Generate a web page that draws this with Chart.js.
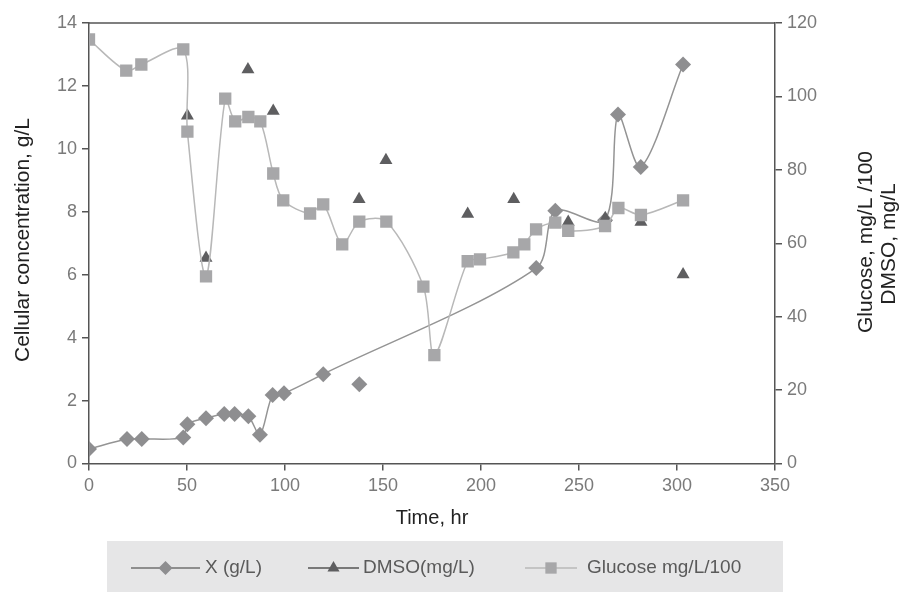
<!DOCTYPE html>
<html>
<head>
<meta charset="utf-8">
<script src="https://cdn.jsdelivr.net/npm/chart.js@4.4.0/dist/chart.umd.min.js"></script>
<style>
  html, body { margin: 0; padding: 0; background: #fff; }
  #wrap { width: 900px; height: 592px; position: relative; }
</style>
</head>
<body>
<div id="wrap"><canvas id="chart" width="900" height="592"></canvas></div>
<script>
// Cell concentration X (g/L), left axis
const xTime = [0, 19.4, 26.9, 48.1, 50.2, 59.7, 69.0, 74.3, 81.3, 87.2, 93.7, 99.5, 119.5, 228.2, 237.9, 263.3, 269.9, 281.5, 303.1];
const xValues = [0.46, 0.78, 0.78, 0.83, 1.25, 1.44, 1.57, 1.57, 1.50, 0.91, 2.18, 2.23, 2.84, 6.21, 8.03, 7.73, 11.09, 9.42, 12.68];
// stray X sample that the curve does not pass through
const xOutlierTime = [137.9];
const xOutlierValues = [2.52];

// DMSO (mg/L), right axis, markers only
const dmsoTime = [50.2, 59.7, 81.1, 94.0, 137.8, 151.5, 193.2, 216.7, 244.5, 263.4, 281.6, 303.1];
const dmsoValues = [94.7, 56.0, 107.3, 96.0, 72.0, 82.6, 68.0, 72.0, 65.8, 66.8, 65.8, 51.5];

// Glucose (mg/L /100), right axis
const glucoseTime = [0, 19.0, 26.7, 48.1, 50.2, 59.7, 69.5, 74.6, 81.3, 87.4, 94.0, 99.1, 112.8, 119.5, 129.2, 137.9, 151.7, 170.6, 176.2, 193.2, 199.5, 216.5, 222.1, 228.1, 237.9, 244.5, 263.3, 270.1, 281.6, 303.1];
const glucoseValues = [115.5, 107.0, 108.7, 112.8, 90.4, 51.0, 99.4, 93.2, 94.4, 93.2, 79.0, 71.7, 68.1, 70.6, 59.7, 65.9, 65.9, 48.2, 29.5, 55.1, 55.6, 57.5, 59.7, 63.8, 65.6, 63.4, 64.7, 69.6, 67.7, 71.7];

// axis ticks
const timeTicks = [0, 50, 100, 150, 200, 250, 300, 350];
const leftTicks = [0, 2, 4, 6, 8, 10, 12, 14];
const rightTicks = [0, 20, 40, 60, 80, 100, 120];

const legendItems = [
    { label: 'X (g/L)', line: '#8e8e8e', lineWidth: 2, fill: '#8e8e90', style: 'rectRot', radius: 7, x0: 131, x1: 200, textX: 205 },
    { label: 'DMSO(mg/L)', line: '#555', lineWidth: 1.5, fill: '#5e5e60', style: 'triangle', radius: 7, x0: 308, x1: 359, textX: 363 },
    { label: 'Glucose mg/L/100', line: '#b8b8b8', lineWidth: 1.5, fill: '#a7a7a9', style: 'rect', radius: 8, x0: 525, x1: 577, textX: 587 }
];

const FONT = "'Liberation Sans', Arial, sans-serif";
Chart.defaults.font.family = FONT;

function pts(xs, ys) {
    return xs.map((t, i) => ({ x: t, y: ys[i] }));
}

// axis titles, top frame line and the boxed legend
const decorPlugin = {
    id: 'decor',
    afterDraw(chart) {
        const ctx = chart.ctx;
        const area = chart.chartArea;
        ctx.save();

        // top border of the plot
        ctx.strokeStyle = '#555';
        ctx.lineWidth = 1.5;
        ctx.beginPath();
        ctx.moveTo(area.left, area.top);
        ctx.lineTo(area.right, area.top);
        ctx.stroke();

        // axis titles
        ctx.fillStyle = '#222';
        ctx.font = '20px ' + FONT;
        ctx.textAlign = 'center';
        ctx.textBaseline = 'middle';
        ctx.fillText('Time, hr', 432, 518);

        ctx.font = '21px ' + FONT;
        const vertical = (text, x, y) => {
            ctx.save();
            ctx.translate(x, y);
            ctx.rotate(-Math.PI / 2);
            ctx.fillText(text, 0, 0);
            ctx.restore();
        };
        vertical('Cellular concentration, g/L', 23, 240);
        vertical('Glucose, mg/L /100', 866, 242);
        vertical('DMSO, mg/L', 889, 244);

        // legend box
        ctx.fillStyle = '#e6e6e7';
        ctx.fillRect(107, 541, 676, 51);
        const ly = 568;
        legendItems.forEach(item => {
            ctx.strokeStyle = item.line;
            ctx.lineWidth = item.lineWidth;
            ctx.beginPath();
            ctx.moveTo(item.x0, ly);
            ctx.lineTo(item.x1, ly);
            ctx.stroke();
            ctx.fillStyle = item.fill;
            ctx.strokeStyle = item.fill;
            Chart.helpers.drawPoint(ctx, { pointStyle: item.style, radius: item.radius, rotation: 0, borderWidth: 0 }, (item.x0 + item.x1) / 2, ly);
            ctx.fillStyle = '#5a5a5a';
            ctx.font = '19px ' + FONT;
            ctx.textAlign = 'left';
            ctx.textBaseline = 'middle';
            ctx.fillText(item.label, item.textX, ly);
        });
        ctx.restore();
    }
};

function axisStyle(ticksList) {
    return {
        grid: { drawOnChartArea: false, drawTicks: true, tickLength: 7, color: '#555', lineWidth: 1.5 },
        border: { color: '#555', width: 1.5 },
        ticks: { color: '#7a7a7a', font: { size: 18 }, padding: 5 },
        afterBuildTicks: scale => { scale.ticks = ticksList.map(v => ({ value: v })); }
    };
}

const ctx = document.getElementById('chart').getContext('2d');
new Chart(ctx, {
    type: 'line',
    data: {
        datasets: [
            {
                label: 'X (g/L)',
                data: pts(xTime, xValues),
                yAxisID: 'y',
                borderColor: '#949494',
                borderWidth: 1.5,
                tension: 0.3,
                pointStyle: 'rectRot',
                pointRadius: 8,
                pointBackgroundColor: '#8e8e90',
                pointBorderColor: '#8e8e90',
                pointBorderWidth: 0,
                order: 3
            },
            {
                label: 'X outlier',
                data: pts(xOutlierTime, xOutlierValues),
                yAxisID: 'y',
                showLine: false,
                pointStyle: 'rectRot',
                pointRadius: 8,
                pointBackgroundColor: '#8e8e90',
                pointBorderWidth: 0,
                order: 3
            },
            {
                label: 'DMSO(mg/L)',
                data: pts(dmsoTime, dmsoValues),
                yAxisID: 'y1',
                showLine: false,
                pointStyle: 'triangle',
                pointRadius: 7.5,
                pointBackgroundColor: '#5e5e60',
                pointBorderWidth: 0,
                order: 2
            },
            {
                label: 'Glucose mg/L/100',
                data: pts(glucoseTime, glucoseValues),
                yAxisID: 'y1',
                borderColor: '#b8b8b8',
                borderWidth: 1.5,
                tension: 0.3,
                pointStyle: 'rect',
                pointRadius: 8.7,
                pointBackgroundColor: '#a7a7a9',
                pointBorderWidth: 0,
                order: 1
            }
        ]
    },
    options: {
        responsive: false,
        animation: false,
        devicePixelRatio: 1,
        layout: { padding: { top: 23, bottom: 60.5, left: 0, right: 0 } },
        plugins: {
            legend: { display: false },
            tooltip: { enabled: false }
        },
        scales: {
            x: Object.assign(axisStyle(timeTicks), {
                type: 'linear',
                position: 'bottom',
                min: 0,
                max: 350,
                afterFit: scale => { scale.height = 68; }
            }),
            y: Object.assign(axisStyle(leftTicks), {
                type: 'linear',
                position: 'left',
                min: 0,
                max: 14,
                afterFit: scale => { scale.width = 89; }
            }),
            y1: Object.assign(axisStyle(rightTicks), {
                type: 'linear',
                position: 'right',
                min: 0,
                max: 120,
                afterFit: scale => { scale.width = 125; }
            })
        }
    },
    plugins: [decorPlugin]
});
</script>
</body>
</html>
